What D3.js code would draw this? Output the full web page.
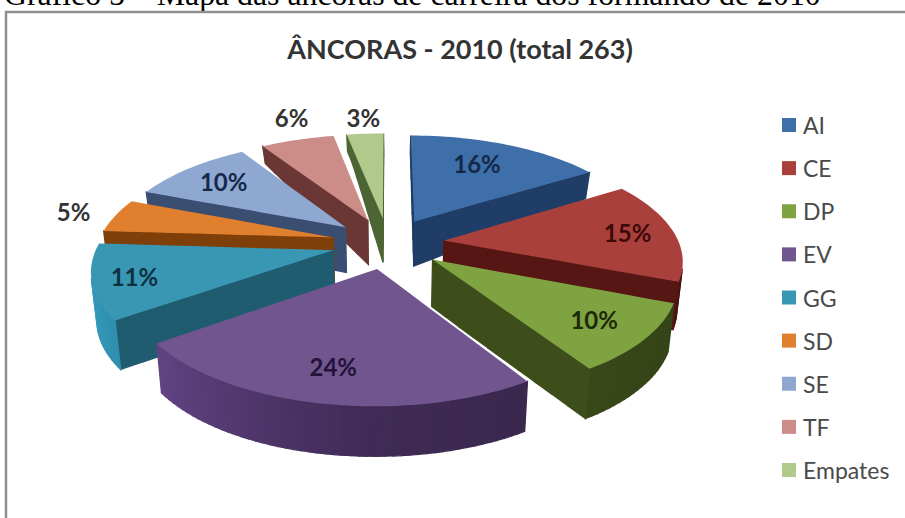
<!DOCTYPE html>
<html lang="pt">
<head>
<meta charset="utf-8">
<script src="https://cdn.jsdelivr.net/npm/d3@7/dist/d3.min.js"></script>
<style>
  html, body { margin: 0; padding: 0; background: #fff; }
  svg { display: block; }
</style>
</head>
<body>
<script>
// Career-anchor shares of the 2010 graduates
const categories = ["AI", "CE", "DP", "EV", "GG", "SD", "SE", "TF", "Empates"];
const shares = [16, 15, 10, 24, 11, 5, 10, 6, 3];
const topColors = ["#3f6fa8", "#aa403c", "#80a342", "#71558f", "#3a97b4", "#e07f2e", "#8fa8d2", "#cc8d89", "#b0ca8c"];
const wallColors = ["#1f3d66", "#561613", "#3d4e1b", "#3f2b55", "#1f5c70", "#7f3f08", "#3a4e72", "#6b3734", "#4d6534"];
const labelRadius = [0.71, 0.80, 0.78, 0.76, 0.83, 1.20, 0.76, 1.31, 1.23];
const labelTurn = [-2.5, 0, 0, 0.7, 0, 0, 0, 3, 0.4];
const labelInk = ["#14284a", "#3c0a08", "#1c2a08", "#23123a", "#0e3040", "#333333", "#14284a", "#333333", "#333333"];

const heading = "Gráfico 5 – Mapa das âncoras de carreira dos formando de 2010";
const chartTitle = "ÂNCORAS - 2010 (total 263)";

const width = 905, height = 518;
const svg = d3.select("body").append("svg").attr("width", width).attr("height", height);

// Document caption, clipped by the top of the page
svg.append("text").attr("x", 4).attr("y", 5)
  .attr("font-family", "'Liberation Serif', serif").attr("font-size", 31.8).attr("fill", "#000")
  .text(heading);

// Chart frame: only its top and left edges are in view
svg.append("path").attr("d", d3.line()([[width, 12], [6, 12], [6, height]]))
  .attr("fill", "none").attr("stroke", "#8f8f8f").attr("stroke-width", 2.5);

svg.append("text").attr("x", 460).attr("y", 59).attr("text-anchor", "middle")
  .attr("font-family", "Lato, sans-serif").attr("font-weight", 700).attr("font-size", 27).attr("fill", "#333")
  .text(chartTitle);

// Perspective view of the tilted disc: u points right, v points at the viewer
const cx = 388, cy = 243, spreadX = 235, spreadY = 106, lean = 0.16, explode = 0.24;
const perspective = v => 1 / (1 - lean * v);
const toScreen = (u, v) => [cx + spreadX * u * perspective(v), cy + spreadY * v * perspective(v)];
const thickness = d3.scaleLinear().domain([-1.07, -0.75, -0.2, 0.35, 1.08]).range([17, 26, 45, 48, 50]).clamp(true);
const lower = ([x, y], v) => [cx + (x - cx) * 0.98, y + thickness(v)];

const pie = d3.pie().sort(null).value(d => d).startAngle(0).endAngle(2 * Math.PI);
const arcs = pie(shares).map((a, i) => ({ ...a, index: i }));

// Disc coordinates of a point at angle t and radius r within an exploded slice
function discPoint(a, t, r) {
  const mid = (a.startAngle + a.endAngle) / 2;
  return [explode * Math.sin(mid) + r * Math.sin(t), -explode * Math.cos(mid) - r * Math.cos(t)];
}

// Closed outline of a slice, clockwise on screen: apex, start edge, rim, end edge
function outline(a) {
  const edge = 10;
  const steps = Math.max(6, Math.ceil((a.endAngle - a.startAngle) / 0.03));
  const pts = [];
  d3.range(edge).forEach(k => pts.push({ p: discPoint(a, a.startAngle, k / edge), t: a.startAngle, rim: false }));
  d3.range(steps + 1).forEach(k => {
    const t = a.startAngle + (a.endAngle - a.startAngle) * k / steps;
    pts.push({ p: discPoint(a, t, 1), t, rim: k < steps });
  });
  d3.range(edge - 1, -1, -1).forEach(k => pts.push({ p: discPoint(a, a.endAngle, k / edge), t: a.endAngle, rim: false }));
  return pts;
}

function rimShade(base, t) {
  const s = Math.sin(t);
  return d3.rgb(base).brighter(s < 0 ? -1.5 * s : -0.4 * s).formatHex();
}

const closedPath = d3.line();
const paintOrder = [8, 7, 6, 5, 4, 0, 1, 2, 3];
const slices = svg.append("g").selectAll("g").data(paintOrder.map(i => arcs[i])).join("g");

slices.each(function (a) {
  const g = d3.select(this);
  const pts = outline(a);
  const walls = [];
  pts.forEach((q, k) => {
    const n = pts[k + 1];
    if (!n) return;
    const A = toScreen(...q.p), B = toScreen(...n.p);
    const quad = [A, B, lower(B, n.p[1]), lower(A, q.p[1])];
    if (d3.polygonArea(quad) > 0) {
      walls.push({ quad, color: q.rim ? rimShade(wallColors[a.index], (q.t + n.t) / 2) : wallColors[a.index] });
    }
  });
  g.selectAll("path.wall").data(walls).join("path").attr("class", "wall")
    .attr("d", d => closedPath(d.quad) + "Z")
    .attr("fill", d => d.color).attr("stroke", d => d.color).attr("stroke-width", 1.3);
  g.append("path").attr("class", "top")
    .attr("d", closedPath(pts.map(q => toScreen(...q.p))) + "Z")
    .attr("fill", topColors[a.index]);
});

// Percentage labels near each slice's middle angle
svg.append("g").selectAll("text").data(arcs).join("text")
  .attr("transform", a => {
    const mid = (a.startAngle + a.endAngle) / 2 + labelTurn[a.index] * Math.PI / 180;
    return `translate(${toScreen(...discPoint(a, mid, labelRadius[a.index]))})`;
  })
  .attr("text-anchor", "middle").attr("dominant-baseline", "central")
  .attr("font-family", "Lato, sans-serif").attr("font-weight", 700).attr("font-size", 24)
  .attr("fill", a => labelInk[a.index])
  .text(a => `${a.value}%`);

// Legend
const legendY = d3.scalePoint().domain(categories).range([125, 470]);
const legend = svg.append("g").selectAll("g").data(categories).join("g")
  .attr("transform", d => `translate(782,${legendY(d)})`);
legend.append("rect").attr("x", 0).attr("y", -7).attr("width", 14).attr("height", 14)
  .attr("fill", (d, i) => topColors[i]);
legend.append("text").attr("x", 21).attr("y", 0).attr("dominant-baseline", "central")
  .attr("font-family", "Lato, sans-serif").attr("font-size", 23).attr("fill", "#4a4a4a")
  .text(d => d);
</script>
</body>
</html>
